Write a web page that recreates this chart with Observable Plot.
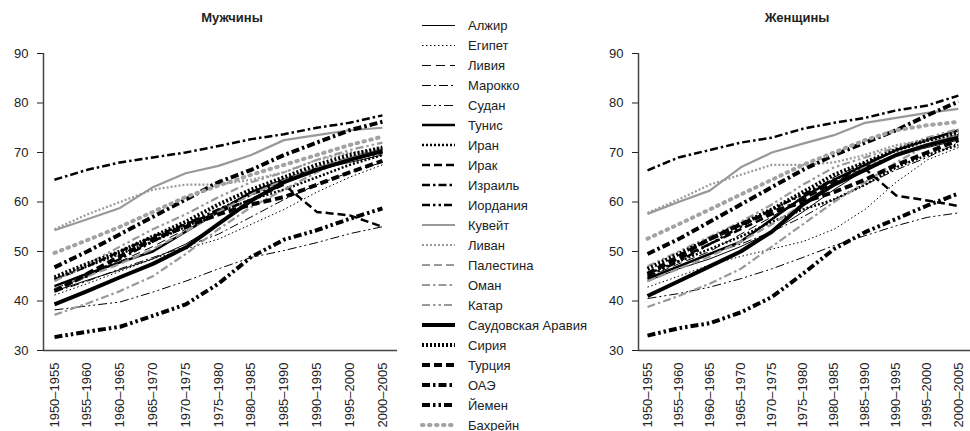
<!DOCTYPE html>
<html>
<head>
<meta charset="utf-8">
<script src="https://cdn.jsdelivr.net/npm/d3@7"></script>
<script src="https://cdn.jsdelivr.net/npm/@observablehq/plot@0.6"></script>
<style>
  html, body { margin: 0; padding: 0; background: #fff; }
  #chart { position: relative; width: 970px; height: 431px; font-family: "Liberation Sans", Arial, sans-serif; color: #222; }
  .panel { position: absolute; top: 0; }
  .title { position: absolute; top: 10px; font-size: 13px; font-weight: bold; transform: translateX(-50%); white-space: nowrap; }
  #legend { position: absolute; left: 418px; top: 15px; font-size: 13px; }
  .row { height: 20px; display: flex; align-items: center; }
  .row svg { display: block; margin-right: 10px; }
</style>
</head>
<body>
<div id="chart"></div>
<script>
// Periods (x axis)
const periods = ["1950–1955", "1955–1960", "1960–1965", "1965–1970", "1970–1975", "1975–1980",
                 "1980–1985", "1985–1990", "1990–1995", "1995–2000", "2000–2005"];

const countries = ["Алжир", "Египет", "Ливия", "Марокко", "Судан", "Тунис", "Иран", "Ирак",
                   "Израиль", "Иордания", "Кувейт", "Ливан", "Палестина", "Оман", "Катар",
                   "Саудовская Аравия", "Сирия", "Турция", "ОАЭ", "Йемен", "Бахрейн"];

// Life expectancy at birth, men
const men = [
  [42.0, 44.2, 46.3, 48.5, 51.5, 55.5, 60.0, 64.0, 66.5, 68.0, 69.5],
  [41.2, 43.5, 46.0, 48.5, 50.5, 52.5, 55.5, 58.5, 62.0, 65.0, 67.5],
  [42.5, 45.0, 48.0, 51.0, 54.5, 58.5, 62.0, 64.5, 66.5, 68.5, 70.0],
  [41.8, 44.0, 46.5, 48.8, 51.0, 53.5, 57.0, 60.5, 63.5, 66.0, 68.0],
  [38.2, 39.0, 39.8, 41.8, 44.0, 46.5, 48.8, 50.2, 51.8, 53.6, 55.0],
  [43.0, 45.5, 47.8, 50.0, 54.0, 58.0, 62.0, 64.5, 66.8, 68.5, 70.5],
  [44.5, 47.0, 49.5, 52.0, 55.0, 58.0, 60.5, 62.5, 65.0, 67.5, 69.5],
  [44.3, 47.0, 50.0, 53.0, 55.5, 58.0, 60.5, 63.5, 58.0, 57.3, 55.0],
  [64.5, 66.5, 68.0, 69.0, 70.0, 71.3, 72.7, 73.7, 75.0, 76.0, 77.5],
  [42.3, 45.0, 48.5, 52.0, 55.5, 58.5, 61.5, 64.0, 66.5, 68.5, 70.0],
  [54.3, 56.5, 58.8, 63.0, 65.8, 67.3, 69.5, 72.5, 73.5, 74.5, 75.0],
  [54.5, 57.5, 60.0, 62.5, 63.5, 63.5, 64.5, 66.0, 68.5, 70.0, 70.5],
  [42.5, 45.0, 47.5, 50.5, 54.0, 58.0, 61.5, 64.5, 67.0, 69.0, 70.5],
  [37.2, 39.5, 42.0, 45.0, 49.5, 54.5, 59.0, 62.5, 66.0, 69.0, 71.0],
  [44.0, 47.5, 51.0, 54.5, 57.5, 61.0, 64.0, 66.0, 68.5, 70.5, 72.0],
  [39.3, 42.0, 44.8, 47.5, 50.8, 55.6, 60.3, 64.0, 66.5, 68.5, 70.3],
  [44.8, 47.5, 50.0, 53.0, 56.0, 59.5, 62.5, 65.0, 67.5, 69.5, 71.0],
  [42.0, 45.5, 49.0, 52.5, 55.0, 57.5, 59.5, 61.0, 63.5, 66.0, 68.3],
  [46.8, 50.0, 53.5, 57.0, 60.5, 64.0, 66.5, 69.5, 72.0, 74.5, 76.2],
  [32.7, 33.8, 34.8, 37.0, 39.3, 43.5, 48.9, 52.4, 54.3, 56.6, 58.7],
  [49.7, 52.3, 55.0, 58.0, 61.0, 63.3, 65.5, 67.5, 69.5, 71.5, 73.2]
];

// Life expectancy at birth, women
const women = [
  [44.0, 46.5, 48.5, 51.0, 54.0, 58.0, 62.5, 66.5, 69.5, 71.0, 72.5],
  [42.8, 45.0, 47.3, 49.0, 50.5, 52.0, 54.5, 58.5, 64.0, 68.5, 71.0],
  [44.8, 47.5, 50.0, 53.5, 57.0, 61.0, 65.0, 68.0, 70.5, 72.5, 74.5],
  [44.5, 47.0, 49.5, 51.5, 54.0, 57.0, 60.5, 63.5, 66.5, 69.0, 72.0],
  [40.5, 41.5, 42.8, 44.5, 46.5, 48.8, 51.2, 53.2, 55.2, 56.9, 57.8],
  [44.5, 47.0, 49.5, 52.0, 56.5, 61.0, 64.5, 67.5, 70.5, 72.5, 74.5],
  [45.5, 48.0, 50.5, 53.0, 56.0, 58.5, 60.5, 63.5, 67.0, 69.5, 71.5],
  [45.5, 48.5, 51.5, 54.5, 57.5, 60.5, 64.0, 66.7, 61.3, 60.3, 59.2],
  [66.4, 69.0, 70.5, 72.0, 73.0, 74.8, 76.0, 77.0, 78.5, 79.5, 81.5],
  [45.0, 48.0, 51.5, 55.0, 58.5, 61.5, 64.5, 67.0, 69.5, 71.5, 73.5],
  [57.6, 60.0, 62.3, 67.0, 70.0, 71.8, 73.5, 76.0, 77.0, 78.0, 78.8],
  [57.8, 60.5, 63.5, 65.5, 67.5, 67.5, 68.0, 69.5, 71.5, 72.5, 73.0],
  [44.0, 46.5, 49.0, 52.0, 55.5, 59.5, 63.5, 67.0, 69.5, 71.5, 73.5],
  [38.8, 41.0, 43.5, 46.5, 51.0, 55.5, 60.0, 64.0, 68.0, 71.5, 74.5],
  [47.0, 50.0, 53.0, 56.0, 59.5, 63.5, 67.0, 69.0, 71.0, 73.0, 74.8],
  [41.0, 44.0, 47.0, 50.0, 54.0, 59.5, 63.5, 66.5, 69.5, 71.5, 73.0],
  [46.5, 49.5, 52.5, 55.5, 58.5, 62.0, 65.5, 68.0, 70.5, 72.5, 74.0],
  [45.5, 49.0, 52.5, 55.5, 58.0, 60.0, 62.0, 64.5, 67.5, 70.0, 72.5],
  [49.5, 52.5, 56.0, 59.5, 63.0, 66.5, 69.5, 72.0, 74.5, 77.5, 80.3],
  [33.0, 34.5, 35.5, 37.7, 40.8, 45.5, 50.5, 53.9, 56.6, 59.3, 61.7],
  [52.6, 55.5, 58.5, 61.5, 64.5, 67.5, 70.0, 72.5, 74.5, 75.5, 76.2]
];

const yTicks = [30, 40, 50, 60, 70, 80, 90];

// Line looks: weight class × dash pattern, in the same order as the countries
const DASH = { solid: null, dot: "1.5,2.5", dash: "9,5", dashDot: "9,3,2,3", dashDotDot: "9,3,2,3,2,3" };
const DASH_HEAVY = { solid: null, dot: "2,2", dash: "8,4", dashDot: "8,3,2.5,3", dashDotDot: "8,3,2.5,3,2.5,3" };
const patterns = ["solid", "dot", "dash", "dashDot", "dashDotDot"];
function lineStyle(k) {
  if (k === 20) return { stroke: "#a3a3a3", strokeWidth: 4, strokeDasharray: "1.5,5.5", strokeLinecap: "round" };
  const group = Math.floor(k / 5), p = patterns[k % 5];
  if (group === 0) return { stroke: "#000", strokeWidth: 1, strokeDasharray: DASH[p] };
  if (group === 1) return { stroke: "#000", strokeWidth: 2.5, strokeDasharray: DASH_HEAVY[p] };
  if (group === 2) return { stroke: "#999", strokeWidth: 2.2, strokeDasharray: DASH_HEAVY[p] };
  return { stroke: "#000", strokeWidth: 4, strokeDasharray: DASH_HEAVY[p] };
}

function panel(values, opts) {
  const marks = [];
  countries.forEach((c, k) => {
    const rows = values[k].map((v, i) => ({ i, v }));
    const s = lineStyle(k);
    marks.push(Plot.line(rows, { x: "i", y: "v", ...s, strokeLinejoin: "round", strokeLinecap: s.strokeLinecap || "butt" }));
  });
  marks.push(Plot.ruleY([yTicks[0]], { stroke: "#444", strokeWidth: 1.5 }));
  marks.push(Plot.ruleX([opts.xDomain[0]], { y1: yTicks[0], y2: yTicks[yTicks.length - 1], stroke: "#444", strokeWidth: 1.5 }));
  return Plot.plot({
    width: opts.width,
    height: 431,
    marginTop: 53,
    marginBottom: 81,
    marginLeft: 43,
    marginRight: opts.marginRight,
    style: { fontFamily: "'Liberation Sans', Arial, sans-serif", fontSize: "13px", color: "#222", background: "transparent", overflow: "visible" },
    x: {
      type: "linear", domain: opts.xDomain, ticks: d3.range(periods.length),
      tickFormat: i => periods[i], tickRotate: -90, tickSize: 0, tickPadding: 12, label: null
    },
    y: { domain: [yTicks[0], yTicks[yTicks.length - 1]], ticks: yTicks, tickSize: 6, tickPadding: 9, label: null },
    marks
  });
}

const chart = document.getElementById("chart");

function place(node, left) {
  const wrap = document.createElement("div");
  wrap.className = "panel";
  wrap.style.left = left + "px";
  wrap.appendChild(node);
  chart.appendChild(wrap);
}

place(panel(men, { width: 400, marginRight: 3, xDomain: [-0.335, 10.46] }), 0);
place(panel(women, { width: 375, marginRight: 0, xDomain: [-0.29, 10.39] }), 595);

function title(text, cx) {
  const t = document.createElement("div");
  t.className = "title";
  t.style.left = cx + "px";
  t.textContent = text;
  chart.appendChild(t);
}
title("Мужчины", 232);
title("Женщины", 797);

// Legend: one row per country with a sample of its line
const legend = document.createElement("div");
legend.id = "legend";
countries.forEach((c, k) => {
  const s = lineStyle(k);
  const row = document.createElement("div");
  row.className = "row";
  const svg = d3.create("svg").attr("width", 40).attr("height", 20);
  const mid = s.strokeWidth % 2 === 1 ? 10.5 : 10;
  svg.append("line")
    .attr("x1", 4).attr("x2", 37).attr("y1", mid).attr("y2", mid)
    .attr("stroke", s.stroke).attr("stroke-width", s.strokeWidth)
    .attr("stroke-dasharray", s.strokeDasharray)
    .attr("stroke-linecap", s.strokeLinecap || "butt");
  row.appendChild(svg.node());
  const label = document.createElement("span");
  label.textContent = c;
  row.appendChild(label);
  legend.appendChild(row);
});
chart.appendChild(legend);
</script>
</body>
</html>
